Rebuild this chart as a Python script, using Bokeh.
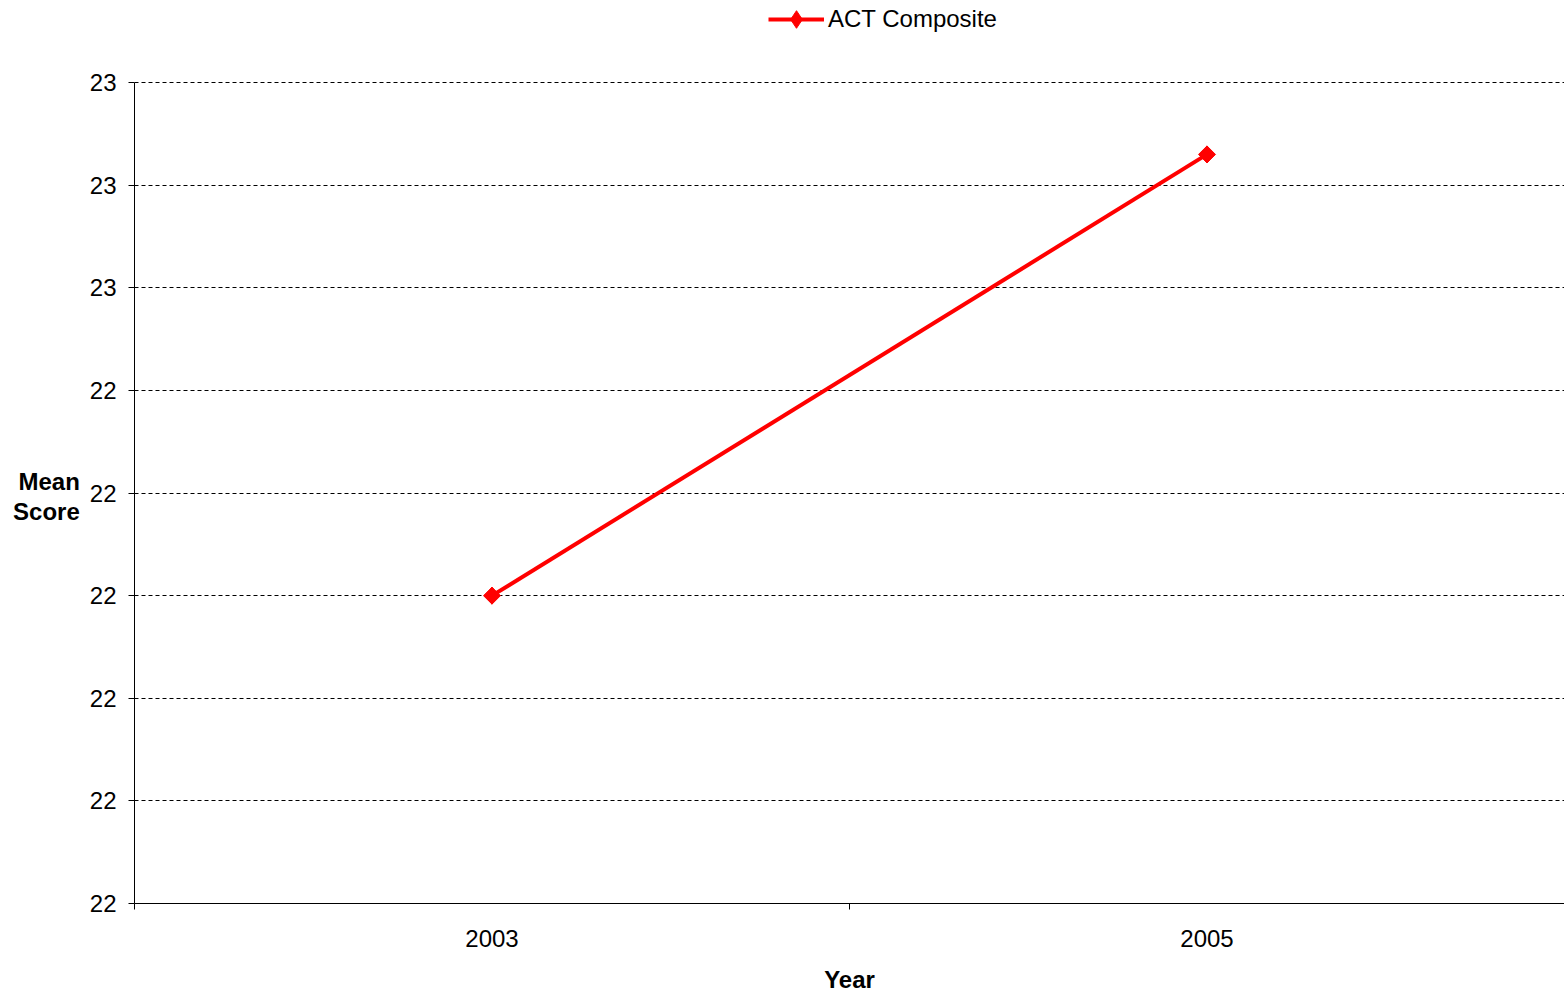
from bokeh.plotting import figure
from bokeh.models import FixedTicker, Range1d, Legend, LegendItem, ColumnDataSource
from bokeh.embed import file_html
from bokeh.resources import INLINE
import math

# Data
years = ["2003", "2005"]
act_composite = [22.2, 22.63]
y_ticks = [21.9, 22.0, 22.1, 22.2, 22.3, 22.4, 22.5, 22.6, 22.7]
y_tick_labels = ["22", "22", "22", "22", "22", "22", "23", "23", "23"]
series_name = "ACT Composite"

FONT = "Liberation Sans"
FS = "24px"
RED = "#FF0000"

# frame spans whole figure height above the x axis; extra room on top holds the legend
p = figure(width=1564, height=997, output_backend="svg", toolbar_location=None,
           x_range=Range1d(0, 2), y_range=Range1d(21.9, 22.78),
           min_border_left=134, min_border_top=0, min_border_bottom=94, min_border_right=0)
p.outline_line_color = None
p.background_fill_color = "white"

xpos = [i + 0.5 for i in range(len(years))]
src = ColumnDataSource(dict(x=xpos, y=act_composite))
ln = p.line("x", "y", source=src, line_color=RED, line_width=4)
# diamond (drawn underneath, used for the legend swatch)
dm = p.scatter("x", "y", source=src, marker="diamond", size=17, fill_color=RED, line_color=RED)
mk = p.scatter("x", "y", source=src, marker="square", size=12, angle=math.pi / 4,
               fill_color=RED, line_color=RED)

# x axis
p.xaxis.ticker = FixedTicker(ticks=xpos, minor_ticks=[0, 1, 2])
p.xaxis.major_label_overrides = {x: y for x, y in zip(xpos, years)}
p.xaxis.major_tick_out = 0
p.xaxis.major_tick_in = 0
p.xaxis.minor_tick_out = 6
p.xaxis.minor_tick_in = 0
p.xaxis.minor_tick_line_color = "black"
p.xaxis.axis_line_color = "black"
p.xaxis.major_label_text_font = FONT
p.xaxis.major_label_text_font_size = FS
p.xaxis.major_label_text_color = "black"
p.xaxis.major_label_standoff = 20
p.xaxis.axis_label = "Year"
p.xaxis.axis_label_text_font = FONT
p.xaxis.axis_label_text_font_style = "bold"
p.xaxis.axis_label_text_font_size = FS
p.xaxis.axis_label_text_color = "black"
p.xaxis.axis_label_standoff = 16

# y axis
p.yaxis.ticker = FixedTicker(ticks=y_ticks)
p.yaxis.bounds = (y_ticks[0], y_ticks[-1])
p.yaxis.major_label_overrides = {t: l for t, l in zip(y_ticks, y_tick_labels)}
p.yaxis.major_tick_out = 6
p.yaxis.major_tick_in = 0
p.yaxis.minor_tick_line_color = None
p.yaxis.axis_line_color = "black"
p.yaxis.major_label_text_font = FONT
p.yaxis.major_label_text_font_size = FS
p.yaxis.major_label_text_color = "black"
p.yaxis.major_label_standoff = 12
# leading blank lines push the two-line title down to the middle of the axis bounds
p.yaxis.axis_label = "\n\n\nMean\nScore"
p.yaxis.axis_label_orientation = "horizontal"
p.yaxis.axis_label_text_font = FONT
p.yaxis.axis_label_text_font_style = "bold"
p.yaxis.axis_label_text_font_size = FS
p.yaxis.axis_label_text_color = "black"
p.yaxis.axis_label_text_align = "center"
p.yaxis.axis_label_text_line_height = 1.1
p.yaxis.axis_label_standoff = 7

p.xgrid.grid_line_color = None
p.ygrid.grid_line_color = "black"
p.ygrid.grid_line_dash = "4 3"
p.ygrid.grid_line_width = 1

legend = Legend(items=[LegendItem(label=series_name, renderers=[ln, dm])],
                location=(634, 862), orientation="horizontal",
                border_line_color=None, background_fill_alpha=0,
                label_text_font=FONT, label_text_font_size=FS, label_text_color="black",
                glyph_width=56, glyph_height=44, padding=0, margin=0, label_standoff=4)
p.add_layout(legend, "center")

open("out.html", "w").write(file_html(p, INLINE))
